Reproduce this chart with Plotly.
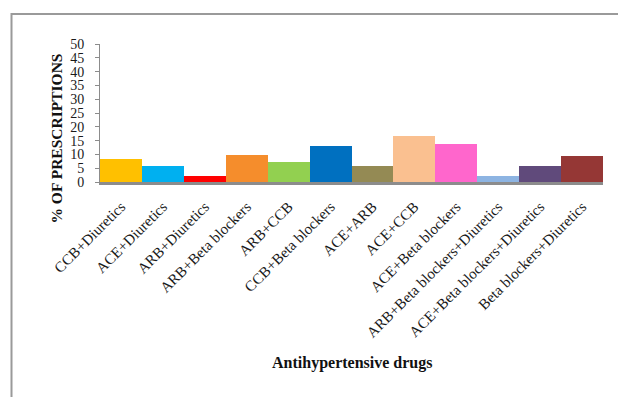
import plotly.graph_objects as go

# Antihypertensive combination therapy, share of prescriptions (%)
drugs = [
    "CCB+Diuretics", "ACE+Diuretics", "ARB+Diuretics", "ARB+Beta blockers",
    "ARB+CCB", "CCB+Beta blockers", "ACE+ARB", "ACE+CCB",
    "ACE+Beta blockers", "ARB+Beta blockers+Diuretics",
    "ACE+Beta blockers+Diuretics", "Beta blockers+Diuretics",
]
percent = [8.2, 5.8, 2.1, 9.7, 7.2, 13.0, 5.8, 16.6, 13.7, 2.1, 5.8, 9.3]
bar_colors = [
    "#FFC000", "#00B0F0", "#FF0000", "#F58D2C", "#92D050", "#0070C0",
    "#948A54", "#FAC090", "#FF66CC", "#8DB4E2", "#604A7B", "#953735",
]
y_ticks = list(range(0, 55, 5))

W, H = 618, 397
ml, mr, mt, mb = 100, 15, 44, 215
pw, ph = W - ml - mr, H - mt - mb

def px_to_paper_x(x):
    return (x - ml) / pw

def px_to_paper_y(y):
    return 1 - (y - mt) / ph

serif = "Liberation Serif, Times New Roman, serif"

fig = go.Figure(go.Bar(
    x=drugs, y=percent,
    marker=dict(color=bar_colors, line=dict(width=0)),
))

fig.update_layout(
    width=W, height=H,
    margin=dict(l=ml, r=mr, t=mt, b=mb),
    paper_bgcolor="white", plot_bgcolor="white",
    bargap=0, showlegend=False,
    font=dict(family=serif, color="#1a1a1a"),
    xaxis=dict(
        tickangle=-45, tickfont=dict(size=15, family=serif, color="#1a1a1a"),
        showline=True, linecolor="#8c8c8c", linewidth=3,
        ticks="", showgrid=False, zeroline=False, ticklabelstandoff=7,
    ),
    yaxis=dict(
        range=[0, 50], tickvals=y_ticks,
        tickfont=dict(size=14, family=serif, color="#1a1a1a"),
        showline=True, linecolor="#8c8c8c", linewidth=1,
        ticks="outside", ticklen=4, tickcolor="#8c8c8c",
        ticklabelstandoff=8, showgrid=False, zeroline=False,
    ),
    annotations=[
        dict(text="<b>% OF PRESCRIPTIONS</b>", textangle=-90,
             x=px_to_paper_x(56), y=px_to_paper_y(138.5), xref="paper", yref="paper",
             xanchor="center", yanchor="middle",
             showarrow=False, font=dict(size=15.5, family=serif, color="#111")),
        dict(text="<b>Antihypertensive drugs</b>",
             x=px_to_paper_x(352), y=px_to_paper_y(363), xref="paper", yref="paper",
             xanchor="center", yanchor="middle",
             showarrow=False, font=dict(size=16, family=serif, color="#111")),
    ],
    shapes=[
        # chart frame, running off the right and bottom edges
        dict(type="path", xref="paper", yref="paper",
             path=f"M {px_to_paper_x(11.5)} {px_to_paper_y(400)} "
                  f"L {px_to_paper_x(11.5)} {px_to_paper_y(14)} "
                  f"L {px_to_paper_x(620)} {px_to_paper_y(14)}",
             line=dict(color="#9a9a9a", width=2)),
    ],
)

fig.write_html("out.html")
